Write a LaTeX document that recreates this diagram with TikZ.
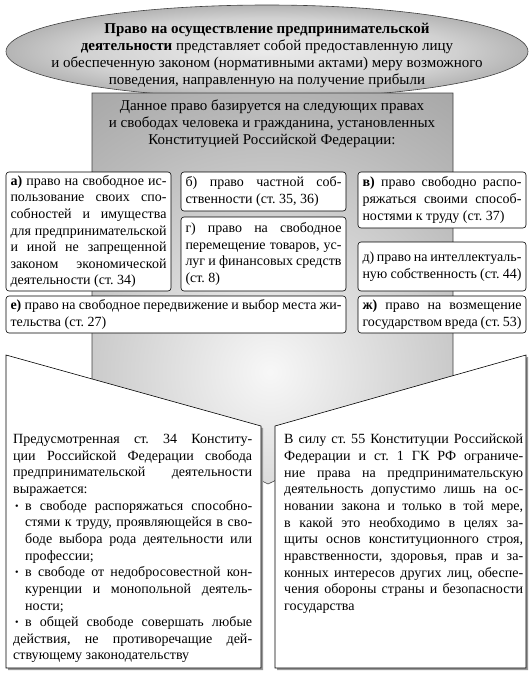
\documentclass[tikz,border=0pt]{standalone}
\usepackage{fontspec}
\setmainfont{Liberation Serif}
\usetikzlibrary{positioning, calc}

\newcommand{\txtsize}{\fontsize{14}{16.6}\selectfont\tolerance=10000\hyphenpenalty=10000\relax}
\newcommand{\calloutsize}{\fontsize{14.05}{16.65}\selectfont\tolerance=10000\hyphenpenalty=10000\relax}
\newcommand{\bul}{\hbox to 12pt{\hskip2pt\raisebox{1pt}{\fontsize{10}{10}\selectfont\textbullet}\hfil}}

\pgfdeclareradialshading{ovalshade}{\pgfpoint{0bp}{0bp}}{%
  color(0bp)=(black!8); color(18bp)=(black!18); color(36bp)=(black!47); color(50bp)=(black!85)}
\pgfdeclareradialshading{columnshade}{\pgfpoint{0bp}{0bp}}{%
  color(0bp)=(black!3); color(18bp)=(black!27); color(36bp)=(black!47); color(50bp)=(black!56)}

\tikzset{
  rightbox/.style={draw, rounded corners=3pt, fill=white, line width=0.6pt,
    anchor=north west, outer sep=0pt, inner xsep=4.5pt, inner ysep=1pt,
    align=justify, font=\txtsize},
  bigtext/.style={inner sep=0pt, align=center, font=\fontsize{15}{17}\selectfont},
  calltext/.style={inner sep=0pt, anchor=north west, align=justify,
    text width=239pt, font=\calloutsize},
  callout/.style={draw, fill=white, line width=0.6pt},
  calloutshadow/.style={fill=black!40},
}

\begin{document}
\frenchspacing
\begin{tikzpicture}[x=1pt, y=-1pt]
  \useasboundingbox (0,0) rectangle (532,680);

  %--- oval with the definition ---
  \shade[shading=ovalshade, draw=black!75, line width=0.6pt]
    (267,51.5) ellipse [x radius=261pt, y radius=46.5pt];
  \node[bigtext] (definition) at (267,55.5)
    {\textbf{Право на осуществление предпринимательской}\\
     \textbf{деятельности} представляет собой предоставленную лицу\\
     и обеспеченную законом (нормативными актами) меру возможного\\
     поведения, направленную на получение прибыли};

  %--- grey column (arrow) ---
  \begin{scope}
    \clip (92,93) -- (453,93) -- (453,395) -- (268,484) -- (92,395) -- cycle;
    \shade[shading=columnshade] (270,372) circle (340pt);
  \end{scope}
  \draw[black!75, line width=0.6pt]
    (92,93) -- (453,93) -- (453,395) -- (268,484) -- (92,395) -- cycle;
  \node[bigtext] (basis) at (272,124)
    {Данное право базируется на следующих правах\\
     и свободах человека и гражданина, установленных\\
     Конституцией Российской Федерации:};

  %--- rights ---
  \node[rightbox, text width=156pt, minimum height=119pt] (rightA) at (6,172)
    {\textbf{а)} право на свободное ис-\linebreak
     пользование своих спо-\linebreak
     собностей и имущества\linebreak
     для предпринимательской\linebreak
     и иной не запрещенной\linebreak
     законом экономической\linebreak
     деятельности (ст.~34)};
  \node[rightbox, text width=156pt, minimum height=39pt] (rightB) at (181,172)
    {б) право частной соб-\linebreak
     ственности (ст.~35, 36)};
  \node[rightbox, text width=156pt, minimum height=74pt] (rightG) at (181,217)
    {г) право на свободное\linebreak
     перемещение товаров, ус-\linebreak
     луг и финансовых средств\linebreak
     (ст.~8)};
  \node[rightbox, text width=159pt, minimum height=56pt] (rightV) at (358,172)
    {\textbf{в)} право свободно распо-\linebreak
     ряжаться своими способ-\linebreak
     ностями к труду (ст.~37)};
  \node[rightbox, text width=159pt, minimum height=49pt] (rightD) at (358,242)
    {д) право на интеллектуаль-\linebreak
     ную собственность (ст.~44)};
  \node[rightbox, text width=331pt, minimum height=37pt] (rightE) at (6,296)
    {\textbf{е)} право на свободное передвижение и выбор места жи-\linebreak
     тельства (ст.~27)};
  \node[rightbox, text width=159pt, minimum height=37pt] (rightZh) at (358,296)
    {\textbf{ж)} право на возмещение\linebreak
     государством вреда (ст.~53)};

  %--- two callouts ---
  \fill[calloutshadow] (8,357) -- (263,428) -- (263,670) -- (8,670) -- cycle;
  \draw[callout] (6,355) -- (261,426) -- (261,668) -- (6,668) -- cycle;
  \fill[calloutshadow] (277,428) -- (528,357) -- (528,670) -- (277,670) -- cycle;
  \draw[callout] (275,426) -- (526,355) -- (526,668) -- (275,668) -- cycle;

  \node[calltext] (freedomtext) at (13,434)
    {Предусмотренная ст.~34 Конститу-\linebreak
     ции Российской Федерации свобода\linebreak
     предпринимательской деятельности\linebreak
     выражается:\par
     \hangindent=12pt\hangafter=1\noindent\bul
     в свободе распоряжаться способно-\linebreak
     стями к труду, проявляющейся в сво-\linebreak
     боде выбора рода деятельности или\linebreak
     профессии;\par
     \hangindent=12pt\hangafter=1\noindent\bul
     в свободе от недобросовестной кон-\linebreak
     куренции и монопольной деятель-\linebreak
     ности;\par
     \hangindent=12pt\hangafter=1\noindent\bul
     в общей свободе совершать любые\linebreak
     действия, не противоречащие дей-\linebreak
     ствующему законодательству};
  \node[calltext] (limittext) at (284,434)
    {В силу ст.~55 Конституции Российской\linebreak
     Федерации и ст.~1 ГК~РФ ограниче-\linebreak
     ние права на предпринимательскую\linebreak
     деятельность допустимо лишь на ос-\linebreak
     новании закона и только в той мере,\linebreak
     в какой это необходимо в целях за-\linebreak
     щиты основ конституционного строя,\linebreak
     нравственности, здоровья, прав и за-\linebreak
     конных интересов других лиц, обеспе-\linebreak
     чения обороны страны и безопасности\linebreak
     государства};
\end{tikzpicture}
\end{document}
